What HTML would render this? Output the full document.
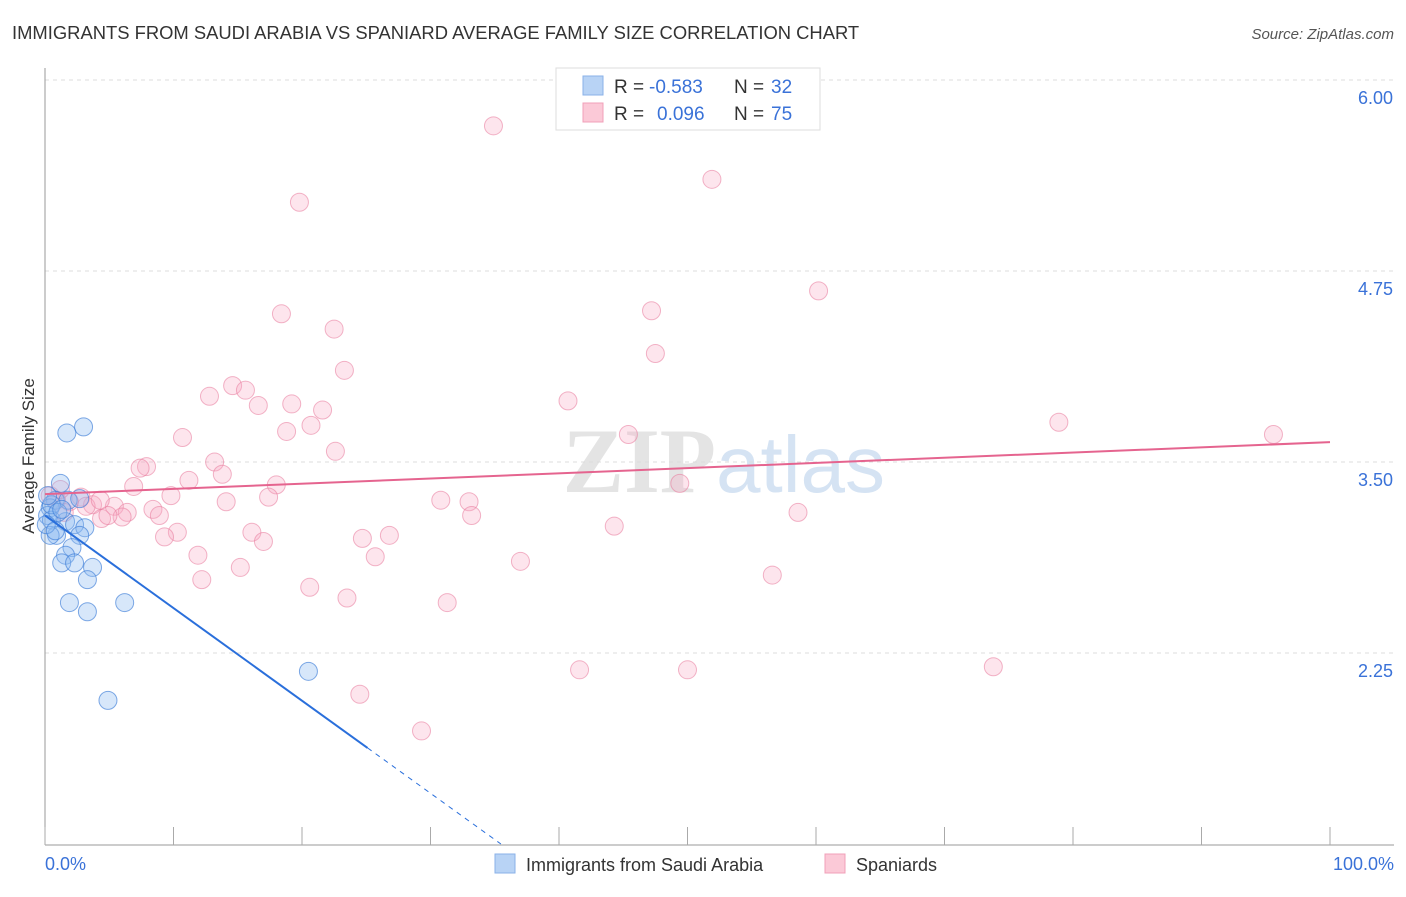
<!DOCTYPE html>
<html><head><meta charset="utf-8"><style>
body{margin:0;background:#fff;font-family:"Liberation Sans",sans-serif}
</style></head><body>
<svg width="1406" height="892" xmlns="http://www.w3.org/2000/svg" font-family="Liberation Sans, sans-serif">
<text x="12" y="39" font-size="18.4" fill="#333">IMMIGRANTS FROM SAUDI ARABIA VS SPANIARD AVERAGE FAMILY SIZE CORRELATION CHART</text>
<text x="1394" y="39" font-size="15" fill="#555" font-style="italic" text-anchor="end">Source: ZipAtlas.com</text>
<text x="716" y="492" font-size="92" fill="#e4e4e4" text-anchor="end" font-family="Liberation Serif, serif" font-weight="bold">ZIP</text>
<text x="716" y="492" font-size="80" fill="#d5e3f3">atlas</text>
<g id="grid"></g>
<line x1="45" y1="68" x2="45" y2="845" stroke="#999"/>
<line x1="45" y1="845" x2="1394" y2="845" stroke="#999"/>
<g id="xticks"></g>
<g id="ylabels"></g>
<text x="45" y="870" font-size="18" fill="#3a72d8">0.0%</text>
<text x="1394" y="870" font-size="18" fill="#3a72d8" text-anchor="end">100.0%</text>
<text transform="translate(34,456) rotate(-90)" font-size="17" fill="#333" text-anchor="middle">Average Family Size</text>
<g id="pts"></g>
<g id="trends"></g>
<g>
<rect x="556" y="68" width="264" height="62" fill="#fff" stroke="#ddd"/>
<rect x="583" y="76" width="20" height="19" fill="#b8d3f5" stroke="#8ab2e8"/>
<rect x="583" y="103" width="20" height="19" fill="#fbc9d7" stroke="#f0a0b8"/>
<text x="614" y="93" font-size="19" fill="#333">R =</text>
<text x="649" y="93" font-size="19" fill="#3a72d8">-0.583</text>
<text x="734" y="93" font-size="19" fill="#333">N =</text>
<text x="771" y="93" font-size="19" fill="#3a72d8">32</text>
<text x="614" y="120" font-size="19" fill="#333">R =</text>
<text x="657" y="120" font-size="19" fill="#3a72d8">0.096</text>
<text x="734" y="120" font-size="19" fill="#333">N =</text>
<text x="771" y="120" font-size="19" fill="#3a72d8">75</text>
</g>
<g>
<rect x="495" y="854" width="20" height="19" fill="#b8d3f5" stroke="#8ab2e8"/>
<text x="526" y="871" font-size="18" fill="#333">Immigrants from Saudi Arabia</text>
<rect x="825" y="854" width="20" height="19" fill="#fbc9d7" stroke="#f0a0b8"/>
<text x="856" y="871" font-size="18" fill="#333">Spaniards</text>
</g>
</svg>
<script>
const yTicks=[6.00,4.75,3.50,2.25];
const xTicks=[0,10,20,30,40,50,60,70,80,90,100];
const blueX=[1.7,3.0,1.2,0.8,0.4,0.2,0.5,1.6,2.3,3.1,1.8,2.7,0.9,0.4,2.7,2.1,1.6,1.3,2.3,3.7,3.3,1.9,3.3,6.2,4.9,20.5,0.5,1.0,0.1,1.3,0.2,0.8];
const blueY=[3.69,3.73,3.36,3.25,3.20,3.15,3.12,3.11,3.09,3.07,3.25,3.26,3.02,3.02,3.02,2.94,2.89,2.84,2.84,2.81,2.73,2.58,2.52,2.58,1.94,2.13,3.22,3.17,3.09,3.19,3.28,3.05];
const pinkX=[34.9,51.9,19.8,60.2,18.4,47.2,22.5,47.5,23.3,14.6,15.6,12.8,16.6,19.2,21.6,40.7,78.9,95.6,18.8,20.7,10.7,45.4,22.6,13.2,7.9,7.4,13.8,11.2,18.0,49.4,6.9,2.8,3.7,9.8,14.1,17.4,30.8,33.0,5.4,8.4,8.9,6.4,4.4,6.0,3.2,1.9,0.9,0.4,1.5,33.2,16.1,10.3,44.3,58.6,9.3,17.0,24.7,26.8,11.9,25.7,15.2,37.0,12.2,20.6,56.6,23.5,31.3,41.6,50.0,73.8,24.5,29.3,4.9,4.3,1.2];
const pinkY=[5.70,5.35,5.20,4.62,4.47,4.49,4.37,4.21,4.10,4.00,3.97,3.93,3.87,3.88,3.84,3.90,3.76,3.68,3.70,3.74,3.66,3.68,3.57,3.50,3.47,3.46,3.42,3.38,3.35,3.36,3.34,3.27,3.22,3.28,3.24,3.27,3.25,3.24,3.21,3.19,3.15,3.17,3.13,3.14,3.21,3.24,3.25,3.28,3.17,3.15,3.04,3.04,3.08,3.17,3.01,2.98,3.00,3.02,2.89,2.88,2.81,2.85,2.73,2.68,2.76,2.61,2.58,2.14,2.14,2.16,1.98,1.74,3.15,3.25,3.32];
const blueTrend=[3.15,-0.0606];
const pinkTrend=[3.29,0.0034];
const NS="http://www.w3.org/2000/svg";
const X=v=>45+v*12.85;
const Y=v=>80+(6-v)*152.8;
function mk(t,a,p){const e=document.createElementNS(NS,t);for(const k in a)e.setAttribute(k,a[k]);p.appendChild(e);return e;}
const grid=document.getElementById('grid'),yl=document.getElementById('ylabels'),xt=document.getElementById('xticks');
yTicks.forEach(v=>{
 const l=mk('line',{x1:45,x2:1394,y1:Y(v),y2:Y(v),stroke:'#ddd','stroke-dasharray':'4,4'},grid);
 
 
 const t=mk('text',{x:1393,y:Y(v)+24,'font-size':18,fill:'#3a72d8','text-anchor':'end'},yl);
 t.textContent=v.toFixed(2);
 
 
});
xTicks.forEach(v=>{
 const l=mk('line',{x1:X(v),x2:X(v),y1:827,y2:845,stroke:'#aaa'},xt);
 
 
});
const pts=document.getElementById('pts');
pinkX.forEach((x,i)=>{
 const c=mk('circle',{cx:X(x),cy:Y(pinkY[i]),r:9,fill:'rgba(248,170,195,0.3)',stroke:'rgba(232,120,155,0.55)','stroke-width':1},pts);
 
 
});
blueX.forEach((x,i)=>{
 const c=mk('circle',{cx:X(x),cy:Y(blueY[i]),r:9,fill:'rgba(140,185,240,0.35)',stroke:'rgba(60,125,215,0.65)','stroke-width':1},pts);
 
 
});
const tr=document.getElementById('trends');
const bf=x=>blueTrend[0]+blueTrend[1]*x;
const pf=x=>pinkTrend[0]+pinkTrend[1]*x;
let l=mk('line',{x1:X(0),y1:Y(bf(0)),x2:X(25.1),y2:Y(bf(25.1)),stroke:'#2a6fdb','stroke-width':2},tr);


const xEnd=(1-blueTrend[0])/blueTrend[1];
l=mk('line',{x1:X(25.1),y1:Y(bf(25.1)),x2:X(xEnd),y2:Y(bf(xEnd)),stroke:'#2a6fdb','stroke-width':1,'stroke-dasharray':'5,5'},tr);


l=mk('line',{x1:X(0),y1:Y(pf(0)),x2:X(100),y2:Y(pf(100)),stroke:'#e5648f','stroke-width':2},tr);


</script>
</body></html>
